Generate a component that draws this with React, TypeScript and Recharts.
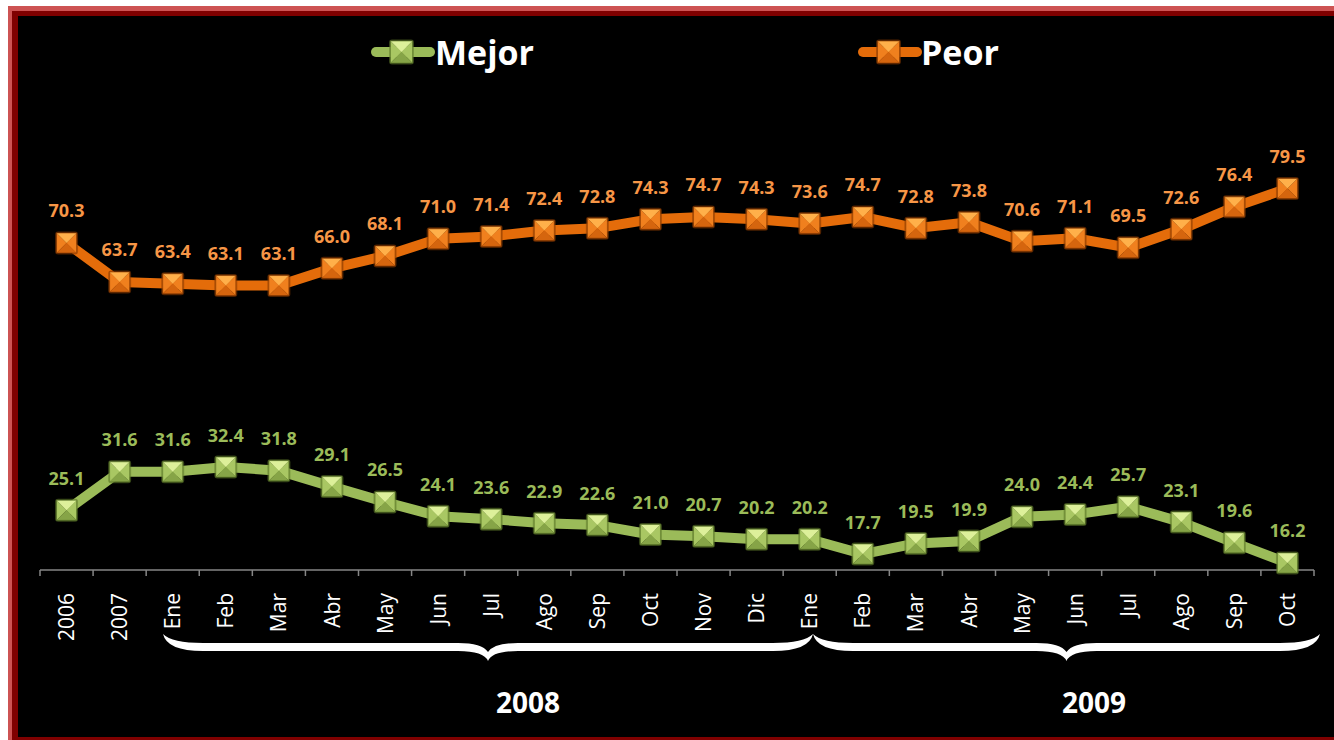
import { LineChart, Line, XAxis, YAxis } from 'recharts';

const categories = [
  '2006', '2007',
  'Ene', 'Feb', 'Mar', 'Abr', 'May', 'Jun', 'Jul', 'Ago', 'Sep', 'Oct', 'Nov', 'Dic',
  'Ene', 'Feb', 'Mar', 'Abr', 'May', 'Jun', 'Jul', 'Ago', 'Sep', 'Oct',
];
const mejor = [25.1, 31.6, 31.6, 32.4, 31.8, 29.1, 26.5, 24.1, 23.6, 22.9, 22.6, 21.0, 20.7, 20.2, 20.2, 17.7, 19.5, 19.9, 24.0, 24.4, 25.7, 23.1, 19.6, 16.2];
const peor = [70.3, 63.7, 63.4, 63.1, 63.1, 66.0, 68.1, 71.0, 71.4, 72.4, 72.8, 74.3, 74.7, 74.3, 73.6, 74.7, 72.8, 73.8, 70.6, 71.1, 69.5, 72.6, 76.4, 79.5];
const yearLabels = ['2008', '2009'];

const data = categories.map((label, i) => ({ label, mejor: mejor[i], peor: peor[i] }));

const W = 1334;
const H = 740;
const margin = { top: 156, right: 20, bottom: 140, left: 40 };
const BAND = (W - margin.left - margin.right) / categories.length;
const FONT = '"Open Sans", sans-serif';

const GREEN = { line: '#9BBB59', label: '#9BBB59', light: '#DDF09A', mid: '#A9C763', dark: '#86A447', edge: '#5E7A2A' };
const ORANGE = { line: '#E46C0A', label: '#F79646', light: '#FFB04A', mid: '#F0801E', dark: '#D5650E', edge: '#8A3A00' };

type Pal = typeof GREEN;

function Marker({ cx, cy, size, pal }: { cx: number; cy: number; size: number; pal: Pal }) {
  const h = size / 2;
  return (
    <g>
      <rect x={cx - h - 1.5} y={cy - h - 1.5} width={size + 3} height={size + 3} rx={3} fill={pal.edge} opacity={0.55} />
      <polygon points={`${cx - h},${cy - h} ${cx - h},${cy + h} ${cx},${cy}`} fill={pal.mid} />
      <polygon points={`${cx + h},${cy - h} ${cx + h},${cy + h} ${cx},${cy}`} fill={pal.mid} />
      <polygon points={`${cx - h},${cy + h} ${cx + h},${cy + h} ${cx},${cy}`} fill={pal.dark} />
      <polygon points={`${cx - h},${cy - h} ${cx + h},${cy - h} ${cx},${cy}`} fill={pal.light} />
      <rect x={cx - h} y={cy - h} width={size} height={size} fill="none" stroke={pal.edge} strokeWidth={1} opacity={0.6} />
    </g>
  );
}

const makeDot = (key: 'mejor' | 'peor', pal: Pal) => (p: any) => {
  const { cx, cy, index, payload } = p;
  if (cx == null || cy == null) return <g key={`d-${key}-${index}`} />;
  return (
    <g key={`d-${key}-${index}`}>
      <Marker cx={cx} cy={cy} size={20} pal={pal} />
      <text
        x={cx}
        y={cy - 25.5}
        textAnchor="middle"
        fill={pal.label}
        fontFamily={FONT}
        fontWeight={700}
        fontSize={18}
      >
        {Number(payload[key]).toFixed(1)}
      </text>
    </g>
  );
};

function CategoryTick(props: any) {
  const { x, y, payload, index } = props;
  const half = BAND / 2;
  return (
    <g transform={`translate(${x},${y})`}>
      <line x1={-half} x2={-half} y1={0} y2={6} stroke="#868686" strokeWidth={1.5} />
      {index === categories.length - 1 && (
        <line x1={half} x2={half} y1={0} y2={6} stroke="#868686" strokeWidth={1.5} />
      )}
      <text
        transform="rotate(-90)"
        x={-23}
        y={0}
        dy="0.36em"
        textAnchor="end"
        fill="#FFFFFF"
        fontFamily={FONT}
        fontSize={21}
      >
        {payload.value}
      </text>
    </g>
  );
}

// curly brace, ends up, point down
function bracePath(x1: number, x2: number, y0: number, ym: number, yp: number) {
  const xm = (x1 + x2) / 2;
  const t = 4;
  return [
    `M${x1},${y0}`,
    `Q${x1 + 4},${ym + t} ${x1 + 40},${ym + t}`,
    `L${xm - 30},${ym + t}`,
    `Q${xm - 4},${ym + t} ${xm},${yp}`,
    `Q${xm + 4},${ym + t} ${xm + 30},${ym + t}`,
    `L${x2 - 40},${ym + t}`,
    `Q${x2 - 4},${ym + t} ${x2},${y0}`,
    `Q${x2 - 9},${ym - t} ${x2 - 40},${ym - t}`,
    `L${xm + 30},${ym - t}`,
    `Q${xm + 6},${ym - t} ${xm},${yp - 9}`,
    `Q${xm - 6},${ym - t} ${xm - 30},${ym - t}`,
    `L${x1 + 40},${ym - t}`,
    `Q${x1 + 9},${ym - t} ${x1},${y0}`,
    'Z',
  ].join(' ');
}

function Overlay() {
  return (
    <svg width={W} height={H} style={{ position: 'absolute', left: 0, top: 0, pointerEvents: 'none' }}>
      {/* legend */}
      <line x1={376} x2={430} y1={52} y2={52} stroke={GREEN.line} strokeWidth={10} strokeLinecap="round" />
      <Marker cx={401.5} cy={52} size={22} pal={GREEN} />
      <text x={435} y={65} fill="#FFFFFF" fontFamily={FONT} fontWeight={700} fontSize={34}>Mejor</text>
      <line x1={863} x2={917} y1={52} y2={52} stroke={ORANGE.line} strokeWidth={10} strokeLinecap="round" />
      <Marker cx={888.5} cy={52} size={22} pal={ORANGE} />
      <text x={921} y={65} fill="#FFFFFF" fontFamily={FONT} fontWeight={700} fontSize={34}>Peor</text>

      {/* year braces */}
      <path d={bracePath(163, 813, 634, 647, 661)} fill="#FFFFFF" />
      <path d={bracePath(813, 1320, 634, 647, 661)} fill="#FFFFFF" />
      <text x={528} y={713} textAnchor="middle" fill="#FFFFFF" fontFamily={FONT} fontWeight={700} fontSize={28}>{yearLabels[0]}</text>
      <text x={1094} y={713} textAnchor="middle" fill="#FFFFFF" fontFamily={FONT} fontWeight={700} fontSize={28}>{yearLabels[1]}</text>
    </svg>
  );
}

export default function App() {
  return (
    <div style={{ position: 'absolute', left: 0, top: 0, width: W, height: H, overflow: 'hidden', background: '#FFFFFF' }}>
      {/* chart area frame, cut off at the right and bottom */}
      <div style={{ position: 'absolute', left: 8, top: 6, width: W - 8, height: H - 6, overflow: 'hidden' }}>
        <div style={{ position: 'absolute', left: 0, top: 0, width: 1400, height: 800, background: '#CD5353' }}>
          <div style={{ position: 'absolute', left: 4, top: 5, width: 1400, height: 800, background: '#7F0000' }}>
            <div style={{ position: 'absolute', left: 6, top: 5, width: 1400, height: 721, background: '#000000' }} />
          </div>
        </div>
      </div>

      <div style={{ position: 'absolute', left: 0, top: 0 }}>
        <LineChart width={W} height={H} data={data} margin={margin}>
          <XAxis
            dataKey="label"
            interval={0}
            height={30}
            tickSize={0}
            tickMargin={0}
            padding={{ left: BAND / 2, right: BAND / 2 }}
            axisLine={{ stroke: '#868686', strokeWidth: 1.5 }}
            tickLine={false}
            tick={<CategoryTick />}
          />
          <YAxis hide domain={[15, 85]} />
          <Line
            type="linear"
            dataKey="peor"
            stroke={ORANGE.line}
            strokeWidth={10}
            strokeLinejoin="round"
            dot={makeDot('peor', ORANGE)}
            activeDot={false}
            isAnimationActive={false}
          />
          <Line
            type="linear"
            dataKey="mejor"
            stroke={GREEN.line}
            strokeWidth={10}
            strokeLinejoin="round"
            dot={makeDot('mejor', GREEN)}
            activeDot={false}
            isAnimationActive={false}
          />
        </LineChart>
      </div>

      <Overlay />
    </div>
  );
}
